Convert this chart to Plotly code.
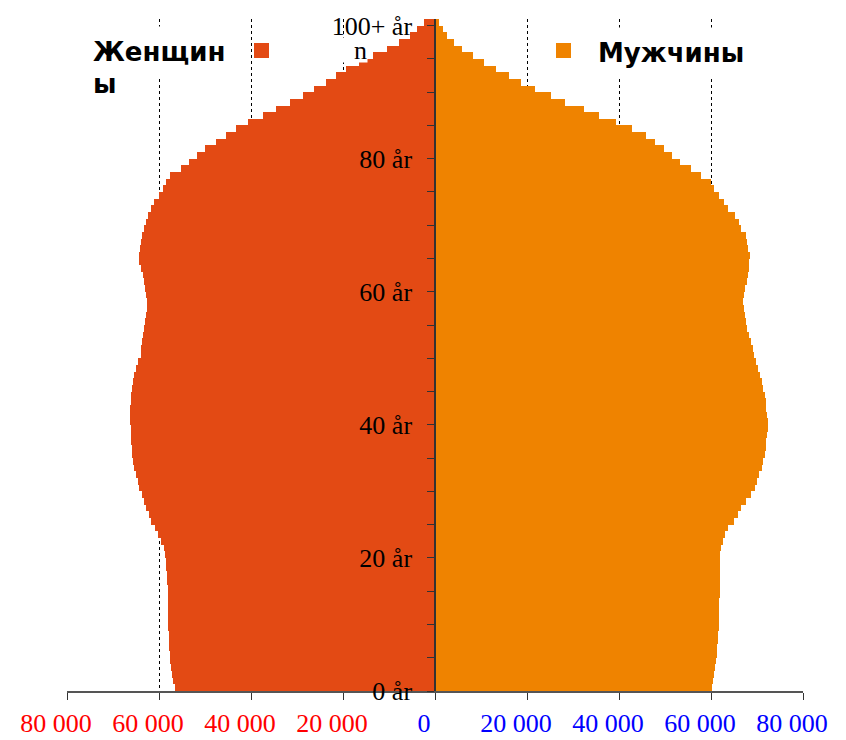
import plotly.graph_objects as go

ages = list(range(0, 101))

female = [
    56600, 56900, 57200, 57400, 57600, 57700, 57800, 57900, 57900, 58000,
    58000, 58050, 58100, 58100, 58100, 58100, 58200, 58300, 58400, 58500,
    58700, 59000, 59600, 60200, 60900, 61700, 62100, 62800, 63300, 63800,
    64300, 64600, 65000, 65400, 65600, 65800, 65950, 66050, 66100, 66150,
    66200, 66200, 66200, 66150, 66100, 65900, 65700, 65350, 65000, 64500,
    64000, 63850, 63700, 63450, 63200, 63000, 62800, 62700, 62700, 62800,
    63000, 63200, 63400, 63900, 64300, 64300, 64200, 64000, 63700, 63200,
    62800, 62400, 61800, 61000, 60000, 59200, 58500, 57700, 55300, 53500,
    51700, 50000, 47600, 45500, 43300, 40600, 37300, 34600, 31500, 28800,
    26200, 23700, 21500, 19400, 16500, 13500, 10400, 7900, 5400, 3900,
    2300,
]

male = [
    60300, 60500, 60700, 60900, 61100, 61300, 61400, 61500, 61600, 61650,
    61700, 61750, 61800, 61800, 61850, 61900, 61900, 61950, 62000, 62000,
    62000, 62200, 62500, 63100, 63800, 64900, 65800, 66600, 67600, 68700,
    69500, 69900, 70500, 71000, 71400, 71700, 71900, 72000, 72200, 72300,
    72300, 72200, 72000, 71900, 71700, 71400, 71000, 70700, 70300, 69800,
    69300, 69100, 68800, 68300, 67900, 67600, 67300, 67100, 67000, 67100,
    67300, 67800, 68000, 68200, 68300, 68400, 68100, 67800, 67500, 66600,
    66000, 65200, 63700, 62800, 61700, 60700, 59900, 57900, 55600, 53200,
    51500, 49700, 47900, 45800, 42900, 39400, 35600, 32300, 28200, 25200,
    21700, 18800, 16100, 13300, 10600, 8200, 5900, 4100, 2700, 1750,
    800,
]

label_ages = [0, 20, 40, 60, 80, 100]
age_labels = ["0 år", "20 år", "40 år", "60 år", "80 år", "100+ år"]
minor_ages = list(range(0, 101, 5))

x_tickvals = [-80000, -60000, -40000, -20000, 0, 20000, 40000, 60000, 80000]
x_ticklabels = ["80 000", "60 000", "40 000", "20 000", "0", "20 000", "40 000", "60 000", "80 000"]

female_name = "Женщины"
male_name = "Мужчины"
female_color = "#E34A14"
male_color = "#EF8300"

# page body has an 8px margin; work in screen pixels and convert
OFF = 8
W, H = 846 - OFF, 740 - OFF
ML, MR, MT, MB = 67 - OFF, 846 - 803, 19 - OFF, 740 - 691
PW, PH = W - ML - MR, H - MT - MB


def px(x):
    return (x - OFF - ML) / PW


def py(y):
    return (H - MB - (y - OFF)) / PH


fig = go.Figure()
fig.add_trace(go.Bar(
    y=ages, x=[-v for v in female], orientation="h", width=1,
    marker=dict(color=female_color, line=dict(width=0)), name=female_name,
    hoverinfo="skip",
))
fig.add_trace(go.Bar(
    y=ages, x=male, orientation="h", width=1,
    marker=dict(color=male_color, line=dict(width=0)), name=male_name,
    hoverinfo="skip",
))

ticktext = []
for v, t in zip(x_tickvals, x_ticklabels):
    col = "#FF0000" if v < 0 else "#0000FF"
    ticktext.append(f"<span style='color:{col}'>{t}</span>")

serif = "Liberation Serif, Times New Roman, serif"

fig.update_layout(
    width=W, height=H,
    margin=dict(l=ML, r=MR, t=MT, b=MB, pad=0, autoexpand=False),
    paper_bgcolor="white", plot_bgcolor="white",
    barmode="overlay", bargap=0,
    showlegend=False,
    font=dict(family=serif, size=26, color="black"),
    xaxis=dict(
        range=[-80000, 80000], tickmode="array", tickvals=x_tickvals, ticktext=ticktext,
        showgrid=True, gridcolor="black", griddash="dot", gridwidth=1,
        zeroline=False, showline=True, linecolor="#555555", linewidth=1.5,
        ticks="outside", ticklen=7, tickcolor="#333333", tickwidth=1,
        ticklabelshift=-11, ticklabelstandoff=1,
        tickfont=dict(family=serif, size=26),
        automargin=False,
        fixedrange=True,
    ),
    yaxis=dict(
        range=[-0.5, 100.5], tickmode="array",
        tickvals=[a - 0.5 for a in label_ages], ticktext=age_labels,
        anchor="free", position=0.5, side="left",
        showgrid=False, zeroline=False, showline=True, linecolor="#333333", linewidth=1.5,
        ticks="outside", ticklen=7, tickcolor="#333333", tickwidth=1.2,
        ticklabelstandoff=10,
        minor=dict(tickvals=[a - 0.5 for a in minor_ages], ticks="outside", ticklen=7,
                   tickcolor="#333333", tickwidth=1.2, showgrid=False),
        tickfont=dict(family=serif, size=26, color="black"),
        layer="above traces",
        automargin=False,
        fixedrange=True,
    ),
)

sans_bold = "DejaVu Sans, Verdana, sans-serif"

fig.add_annotation(
    xref="paper", yref="paper", x=px(82), y=py(52), xanchor="left", yanchor="middle",
    text="<b>Женщин</b>", showarrow=False, bgcolor="white", borderpad=10,
    font=dict(family=sans_bold, size=26, color="black"),
)
fig.add_annotation(
    xref="paper", yref="paper", x=px(91), y=py(84), xanchor="left", yanchor="middle",
    text="<b>ы</b>", showarrow=False,
    font=dict(family=sans_bold, size=26, color="black"),
)
fig.add_annotation(
    xref="paper", yref="paper", x=px(587), y=py(53), xanchor="left", yanchor="middle",
    text="<b>" + male_name + "</b>", showarrow=False, bgcolor="white", borderpad=10,
    font=dict(family=sans_bold, size=26, color="black"),
)
fig.add_annotation(
    xref="paper", yref="paper", x=px(368), y=py(50), xanchor="right", yanchor="middle",
    text="n", showarrow=False, bgcolor="white", width=26, height=24, align="right",
    valign="middle", borderpad=0,
    font=dict(family=serif, size=26, color="black"),
)

fig.add_shape(type="rect", xref="paper", yref="paper", x0=px(254), x1=px(269), y0=py(58), y1=py(43),
              fillcolor=female_color, line=dict(width=0), layer="above")
fig.add_shape(type="rect", xref="paper", yref="paper", x0=px(556), x1=px(571), y0=py(58), y1=py(43),
              fillcolor=male_color, line=dict(width=0), layer="above")

fig.write_html("out.html")
